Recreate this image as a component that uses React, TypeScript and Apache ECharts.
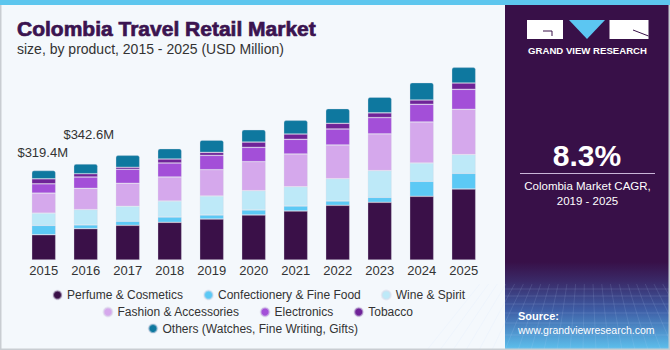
import React, { useEffect, useRef } from "react";
import * as echarts from "echarts";

const years = ["2015", "2016", "2017", "2018", "2019", "2020", "2021", "2022", "2023", "2024", "2025"];
const perfume = [90.3, 112.1, 123.9, 134.6, 146.4, 160.7, 174.9, 195.3, 206.0, 227.4, 253.5];
const confectionery = [33.2, 13.2, 14.3, 18.9, 14.3, 17.9, 17.9, 15.4, 17.9, 53.6, 56.0];
const wine = [43.9, 54.6, 53.6, 57.1, 67.8, 68.9, 68.9, 79.6, 95.3, 65.3, 66.8];
const fashion = [71.4, 76.0, 82.1, 85.7, 93.9, 103.5, 116.7, 120.3, 131.0, 146.4, 161.7];
const electronics = [33.2, 40.3, 50.0, 50.0, 51.1, 51.1, 52.5, 57.1, 58.2, 63.2, 71.4];
const tobacco = [17.9, 11.8, 7.1, 14.3, 10.7, 18.9, 18.9, 20.3, 16.8, 15.4, 22.5];
const others = [29.5, 34.6, 42.8, 36.8, 43.9, 43.9, 48.9, 52.5, 56.0, 61.8, 56.0];

const seriesNames = [
  "Perfume & Cosmetics",
  "Confectionery & Fine Food",
  "Wine & Spirit",
  "Fashion & Accessories",
  "Electronics",
  "Tobacco",
  "Others (Watches, Fine Writing, Gifts)",
];
const seriesData = [perfume, confectionery, wine, fashion, electronics, tobacco, others];
const colors = ["#3A1048", "#5CC9F5", "#BDE9F8", "#D5A8EC", "#A34FD8", "#6F2398", "#0E789F"];

const labelledYears = [0, 1];
const labelOffsets: Record<number, number[]> = { 0: [-1, -7], 1: [3, -18] };

const FONT = "Liberation Sans, Arial, sans-serif";

export default function App() {
  const ref = useRef<HTMLDivElement>(null);

  useEffect(() => {
    if (!ref.current) return;
    const chart = echarts.init(ref.current, null, { renderer: "svg" });

    const totals = years.map((_, i) => seriesData.reduce((s, arr) => s + arr[i], 0));

    const series = seriesNames.map((name, si) => {
      const isTop = si === seriesNames.length - 1;
      return {
        name,
        type: "bar",
        stack: "total",
        barWidth: 24,
        itemStyle: {
          color: colors[si],
          borderColor: "rgba(220,220,235,0.55)",
          borderWidth: 0.6,
          borderRadius: isTop ? [2, 2, 0, 0] : 0,
        },
        data: seriesData[si].map((v, i) => {
          if (isTop && labelledYears.includes(i)) {
            return {
              value: v,
              label: {
                show: true,
                position: "top",
                offset: labelOffsets[i],
                formatter: "$" + totals[i].toFixed(1) + "M",
                fontFamily: FONT,
                fontSize: 13,
                color: "#333333",
              },
            };
          }
          return v;
        }),
      };
    });

    // decorative grid for the panel bottom
    const gridEls: any[] = [];
    const hy = [289, 296, 304, 313, 323, 335, 348];
    hy.forEach((y) => {
      gridEls.push({
        type: "line",
        shape: { x1: 505, y1: y, x2: 670, y2: y },
        style: { stroke: "rgba(200,220,255,0.18)", lineWidth: 0.8 },
        silent: true,
      });
    });
    for (let i = -6; i <= 18; i++) {
      const xb = 505 + i * 13;
      const vx = 587;
      const vy = 150;
      const y0 = 284;
      const x0 = vx + ((xb - vx) * (y0 - vy)) / (350 - vy);
      gridEls.push({
        type: "line",
        shape: { x1: x0, y1: y0, x2: xb, y2: 350 },
        style: { stroke: "rgba(200,220,255,0.16)", lineWidth: 0.8 },
        silent: true,
      });
    }

    const option: any = {
      animation: false,
      backgroundColor: "#F4F8FC",
      textStyle: { fontFamily: FONT },
      grid: { left: 22.7, right: 185.3, top: 60, bottom: 90, containLabel: false },
      xAxis: {
        type: "category",
        data: years,
        axisLine: { show: false },
        axisTick: { show: false },
        axisLabel: { color: "#333333", fontSize: 13, margin: 4, fontFamily: FONT },
      },
      yAxis: { type: "value", min: 0, max: 714, show: false },
      legend: [
        {
          data: seriesNames.slice(0, 3),
          left: 52,
          top: 289,
          padding: 0,
          itemGap: 20,
          itemWidth: 9,
          itemHeight: 9,
          icon: "circle",
          textStyle: { fontSize: 12, color: "#333333", fontFamily: FONT },
          selectedMode: false,
        },
        {
          data: seriesNames.slice(3, 6),
          left: 102.5,
          top: 306,
          padding: 0,
          itemGap: 20,
          itemWidth: 9,
          itemHeight: 9,
          icon: "circle",
          textStyle: { fontSize: 12, color: "#333333", fontFamily: FONT },
          selectedMode: false,
        },
        {
          data: seriesNames.slice(6),
          left: 147.5,
          top: 322.5,
          padding: 0,
          itemGap: 20,
          itemWidth: 9,
          itemHeight: 9,
          icon: "circle",
          textStyle: { fontSize: 12, color: "#333333", fontFamily: FONT },
          selectedMode: false,
        },
      ],
      series,
      graphic: [
        // outer border
        {
          type: "rect",
          shape: { x: 0.75, y: 0.75, width: 668.5, height: 348.5 },
          style: { fill: "none", stroke: "#C9CDD2", lineWidth: 1.5 },
          silent: true,
          z: 10,
        },
        // top strip
        {
          type: "rect",
          shape: { x: 0, y: 0, width: 670, height: 5 },
          style: { fill: "#5DC6EE" },
          silent: true,
          z: 11,
        },
        // right panel
        {
          type: "rect",
          shape: { x: 505, y: 5, width: 165, height: 345 },
          style: { fill: "#381048" },
          silent: true,
          z: 1,
        },
        {
          type: "rect",
          shape: { x: 505, y: 262, width: 165, height: 88 },
          style: {
            fill: new echarts.graphic.LinearGradient(0, 0, 0, 1, [
              { offset: 0, color: "#381048" },
              { offset: 0.22, color: "#3A2A68" },
              { offset: 0.55, color: "#3E5EA6" },
              { offset: 1, color: "#5EC2EE" },
            ]),
          },
          silent: true,
          z: 1,
        },
        ...gridEls.map((e) => ({ ...e, z: 2 })),
        // logo
        { type: "rect", shape: { x: 527, y: 20, width: 36, height: 19 }, style: { fill: "#FFFFFF" }, z: 3 },
        { type: "polyline", shape: { points: [[543, 31], [552, 31], [552, 36]] }, style: { stroke: "#381048", lineWidth: 1, fill: "none" }, z: 4 },
        { type: "polygon", shape: { points: [[569, 20], [605, 20], [587, 39]] }, style: { fill: "#5CC6F2" }, z: 3 },
        { type: "rect", shape: { x: 609.5, y: 20, width: 39, height: 19 }, style: { fill: "#FFFFFF" }, z: 3 },
        { type: "line", shape: { x1: 633, y1: 30, x2: 648.5, y2: 36 }, style: { stroke: "#381048", lineWidth: 1 }, z: 4 },
        {
          type: "text",
          x: 587.5,
          y: 50.5,
          style: {
            text: "GRAND VIEW RESEARCH",
            fill: "#FFFFFF",
            font: "bold 9.6px " + FONT,
            textAlign: "center",
            textVerticalAlign: "middle",
          },
          z: 4,
        },
        // CAGR
        {
          type: "text",
          x: 587,
          y: 155,
          style: {
            text: "8.3%",
            fill: "#FFFFFF",
            font: "bold 30px " + FONT,
            textAlign: "center",
            textVerticalAlign: "middle",
          },
          z: 4,
        },
        { type: "line", shape: { x1: 520, y1: 173.5, x2: 655, y2: 173.5 }, style: { stroke: "#C9B6D8", lineWidth: 1.2 }, z: 4 },
        {
          type: "text",
          x: 587.5,
          y: 185.5,
          style: {
            text: "Colombia Market CAGR,",
            fill: "#FFFFFF",
            font: "11.5px " + FONT,
            textAlign: "center",
            textVerticalAlign: "middle",
          },
          z: 4,
        },
        {
          type: "text",
          x: 587.5,
          y: 201,
          style: {
            text: "2019 - 2025",
            fill: "#FFFFFF",
            font: "11.5px " + FONT,
            textAlign: "center",
            textVerticalAlign: "middle",
          },
          z: 4,
        },
        // source
        {
          type: "text",
          x: 518,
          y: 316,
          style: {
            text: "Source:",
            fill: "#FFFFFF",
            font: "bold 11px " + FONT,
            textAlign: "left",
            textVerticalAlign: "middle",
          },
          z: 4,
        },
        {
          type: "text",
          x: 518,
          y: 330,
          style: {
            text: "www.grandviewresearch.com",
            fill: "#FFFFFF",
            font: "10.5px " + FONT,
            textAlign: "left",
            textVerticalAlign: "middle",
          },
          z: 4,
        },
        // title
        {
          type: "text",
          x: 17,
          y: 28.5,
          style: {
            text: "Colombia Travel Retail Market",
            fill: "#3B1450",
            stroke: "#3B1450",
            lineWidth: 0.7,
            font: "bold 21px " + FONT,
            textAlign: "left",
            textVerticalAlign: "middle",
          },
          z: 4,
        },
        {
          type: "text",
          x: 17,
          y: 48.5,
          style: {
            text: "size, by product, 2015 - 2025 (USD Million)",
            fill: "#333333",
            font: "14px " + FONT,
            textAlign: "left",
            textVerticalAlign: "middle",
          },
          z: 4,
        },
      ],
    };

    chart.setOption(option);
    return () => chart.dispose();
  }, []);

  return (
    <div
      ref={ref}
      style={{ position: "fixed", left: 0, top: 0, width: 670, height: 350 }}
    />
  );
}
